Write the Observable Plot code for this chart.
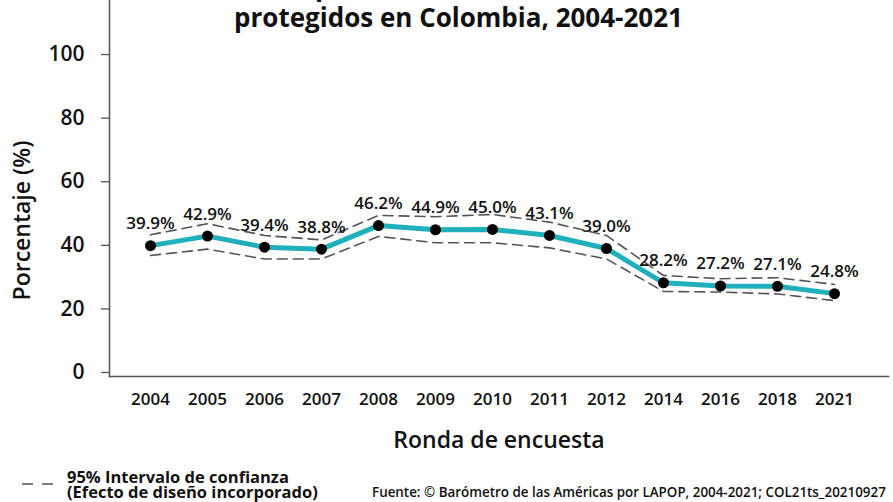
<!DOCTYPE html>
<html>
<head>
<meta charset="utf-8">
<script src="https://cdn.jsdelivr.net/npm/d3@7"></script>
<script src="https://cdn.jsdelivr.net/npm/@observablehq/plot@0.6"></script>
<style>
  html, body { margin: 0; padding: 0; background: #fff; }
  body { width: 893px; height: 502px; position: relative; overflow: hidden; font-family: "Open Sans", sans-serif; color: #111; }
  #title { position: absolute; left: 24px; width: 869px; top: -29px; text-align: center; font-weight: 700; font-size: 26px; line-height: 31px; z-index: 2; }
  #chart { position: absolute; left: 0; top: 0; }
  #dash { position: absolute; left: 20px; top: 479px; }
  #legend { position: absolute; left: 67px; top: 469px; font-weight: 700; font-size: 16.5px; line-height: 15px; white-space: nowrap; }
  #source { position: absolute; left: 372px; top: 484px; font-weight: 600; font-size: 13.4px; line-height: 16px; white-space: nowrap; }
</style>
</head>
<body>
<div id="title">Creencia de que los derechos básicos están bien<br>protegidos en Colombia, 2004-2021</div>
<div id="chart"></div>
<svg id="dash" width="36" height="10"><line x1="2" y1="5" x2="36" y2="5" stroke="#555" stroke-width="1.6" stroke-dasharray="11,9"/></svg>
<div id="legend"><div>95% Intervalo de confianza</div><div>(Efecto de diseño incorporado)</div></div>
<div id="source">Fuente: © Barómetro de las Américas por LAPOP, 2004-2021; COL21ts_20210927</div>
<script>
const years = ["2004","2005","2006","2007","2008","2009","2010","2011","2012","2014","2016","2018","2021"];
const values = [39.9,42.9,39.4,38.8,46.2,44.9,45.0,43.1,39.0,28.2,27.2,27.1,24.8];
const upper = [43.3,46.8,43.1,41.7,49.4,49.0,49.7,47.3,43.1,30.5,29.5,29.8,27.7];
const lower = [36.8,38.8,35.7,35.7,42.8,40.8,40.8,39.2,35.7,25.5,25.3,24.7,22.6];
const yTicks = [0,20,40,60,80,100];
const yLabel = "Porcentaje (%)";
const xLabel = "Ronda de encuesta";

const data = years.map((y, i) => ({year: y, value: values[i], hi: upper[i], lo: lower[i]}));

const plot = Plot.plot({
  width: 893,
  height: 455,
  marginTop: 0,
  marginLeft: 109,
  marginRight: 5,
  marginBottom: 79,
  style: {fontFamily: "Open Sans, sans-serif", color: "#111", background: "transparent"},
  x: {type: "point", domain: years, padding: 0.833, align: 0.43},
  y: {domain: [-1.26, 117]},
  marks: [
    Plot.frame({anchor: "left", stroke: "#555", strokeWidth: 1.5}),
    Plot.frame({anchor: "bottom", stroke: "#555", strokeWidth: 1.5}),
    Plot.axisY({ticks: yTicks, tickSize: 8, tickPadding: 17, fontSize: 21, fontWeight: 600, stroke: "#555", strokeWidth: 1.3, label: null, fill: "#111"}),
    Plot.axisX({tickSize: 0, tickPadding: 16, fontSize: 17, fontWeight: 600, label: null, fill: "#111"}),
    Plot.line(data, {x: "year", y: "hi", stroke: "#555", strokeWidth: 1.6, strokeDasharray: "10,6"}),
    Plot.line(data, {x: "year", y: "lo", stroke: "#555", strokeWidth: 1.6, strokeDasharray: "10,6"}),
    Plot.line(data, {x: "year", y: "value", stroke: "#1fb0bc", strokeWidth: 5}),
    Plot.dot(data, {x: "year", y: "value", r: 5.5, fill: "#000"}),
    Plot.text(data, {x: "year", y: "value", text: d => d.value.toFixed(1) + "%", dy: -22, fontSize: 17, fontWeight: 600, fill: "#111"}),
    Plot.text([yLabel], {frameAnchor: "left", textAnchor: "middle", lineAnchor: "middle", text: d => d, rotate: -90, dx: -87, dy: 32, fontSize: 23, fontWeight: 600, fill: "#111"}),
    Plot.text([xLabel], {frameAnchor: "bottom", textAnchor: "middle", lineAnchor: "middle", text: d => d, dy: 64, fontSize: 23, fontWeight: 600, fill: "#111"})
  ]
});
document.getElementById("chart").appendChild(plot);
</script>
</body>
</html>
